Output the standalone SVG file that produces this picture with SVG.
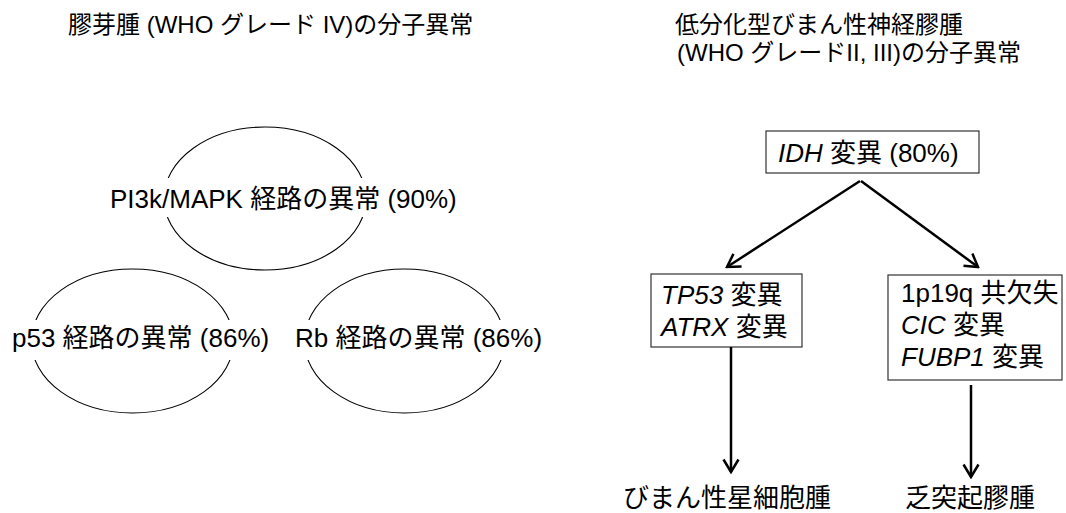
<svg xmlns="http://www.w3.org/2000/svg" width="1066" height="513" viewBox="0 0 1066 513">
<defs>
<style>
text{font-family:"Liberation Sans","Noto Sans CJK JP",sans-serif;fill:#000}
.t24{font-size:24px}
.t26{font-size:26px}
.it{font-style:italic}
.ell{fill:none;stroke:#000;stroke-width:1.1}
.bg{fill:#fff}
.box{fill:#fff;stroke:#333;stroke-width:1.2}
.arr{fill:none;stroke:#000;stroke-width:2.5;marker-end:url(#ah)}
</style>
<marker id="ah" viewBox="0 0 16 18" refX="14" refY="9" markerWidth="16" markerHeight="18" orient="auto" markerUnits="userSpaceOnUse">
<path d="M1.5,1.5 L14,9 L1.5,16.5" fill="none" stroke="#000" stroke-width="2.5"/>
</marker>
</defs>
<rect width="1066" height="513" fill="#fff"/>
<g id="title-left"><text class="t24" x="68" y="33">膠芽腫 (WHO グレード IV)の分子異常</text></g>
<g id="title-right">
<text class="t24" x="675" y="33">低分化型びまん性神経膠腫</text>
<text class="t24" x="677" y="61">(WHO グレードII, III)の分子異常</text>
</g>
<g id="node-pi3k">
<ellipse class="ell" cx="265" cy="198.5" rx="101" ry="71.5"/>
<rect class="bg" x="108" y="178" width="352" height="39"/>
<text class="t26" x="110" y="208">PI3k/MAPK 経路の異常 (90%)</text>
</g>
<g id="node-p53">
<ellipse class="ell" cx="132.5" cy="341" rx="101" ry="72"/>
<rect class="bg" x="10" y="320" width="262" height="40"/>
<text class="t26" x="12" y="347">p53 経路の異常 (86%)</text>
</g>
<g id="node-rb">
<ellipse class="ell" cx="404.5" cy="341" rx="100" ry="72"/>
<rect class="bg" x="293" y="320" width="252" height="40"/>
<text class="t26" x="295" y="347">Rb 経路の異常 (86%)</text>
</g>
<g id="node-idh">
<rect class="box" x="766" y="131" width="213" height="42"/>
<text class="t26" x="778" y="162"><tspan class="it">IDH</tspan> 変異 (80%)</text>
</g>
<g id="node-tp53">
<rect class="box" x="651" y="274" width="151" height="73"/>
<text class="t26" x="661" y="304"><tspan class="it">TP53</tspan> 変異</text>
<text class="t26" x="661" y="336"><tspan class="it">ATRX</tspan> 変異</text>
</g>
<g id="node-1p19q">
<rect class="box" x="888" y="275" width="174" height="105"/>
<text class="t26" x="901" y="302">1p19q 共欠失</text>
<text class="t26" x="901" y="334"><tspan class="it">CIC</tspan> 変異</text>
<text class="t26" x="901" y="366"><tspan class="it">FUBP1</tspan> 変異</text>
</g>
<g id="node-astro"><text class="t26" x="727" y="507" text-anchor="middle">びまん性星細胞腫</text></g>
<g id="node-oligo"><text class="t26" x="970" y="507" text-anchor="middle">乏突起膠腫</text></g>
<g id="connectors">
<line class="arr" x1="860" y1="181" x2="727" y2="267"/>
<line class="arr" x1="861" y1="181" x2="978" y2="267"/>
<line class="arr" x1="731" y1="347" x2="731" y2="472"/>
<line class="arr" x1="971" y1="385" x2="971" y2="477"/>
</g>
</svg>
